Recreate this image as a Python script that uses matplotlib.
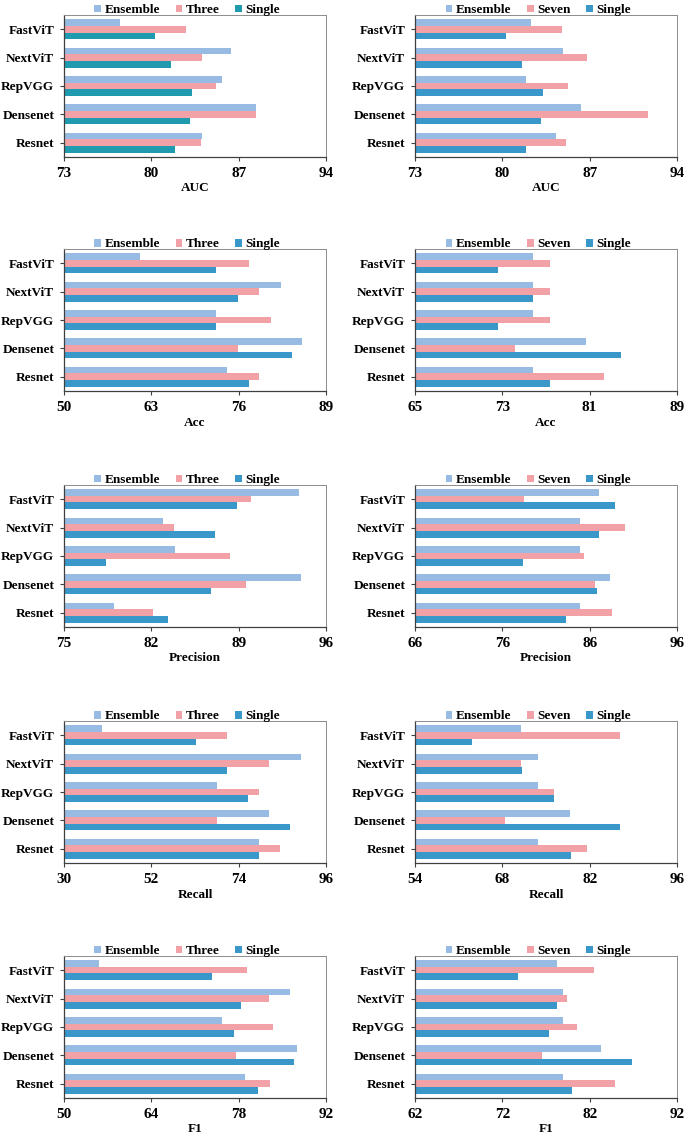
import matplotlib
matplotlib.use("Agg")
import matplotlib.pyplot as plt
import numpy as np

plt.rcParams["font.family"] = ["Liberation Serif", "DejaVu Serif"]
plt.rcParams["font.weight"] = "bold"

# models listed top to bottom as in the chart
models = ["FastViT", "NextViT", "RepVGG", "Densenet", "Resnet"]

# AUC
auc_ens_l = [77.5, 86.4, 85.7, 88.4, 84.1]
auc_three = [82.8, 84.1, 85.2, 88.4, 84.0]
auc_single_l = [80.3, 81.6, 83.3, 83.1, 81.9]
auc_ens_r = [82.3, 84.9, 81.9, 86.3, 84.3]
auc_seven = [84.8, 86.8, 85.3, 91.7, 85.1]
auc_single_r = [80.3, 81.6, 83.3, 83.1, 81.9]
auc_ticks_l = [73, 80, 87, 94]
auc_ticks_r = [73, 80, 87, 94]

# Acc
acc_ens_l = [61.3, 82.3, 72.6, 85.5, 74.2]
acc_three = [77.5, 79.1, 80.8, 75.9, 79.1]
acc_single_l = [72.6, 75.9, 72.6, 83.9, 77.5]
acc_ens_r = [75.8, 75.8, 75.8, 80.7, 75.8]
acc_seven = [77.4, 77.4, 77.4, 74.2, 82.3]
acc_single_r = [72.6, 75.8, 72.6, 83.9, 77.4]
acc_ticks_l = [50, 63, 76, 89]
acc_ticks_r = [65, 73, 81, 89]

# Precision
prec_ens_l = [93.8, 82.9, 83.9, 94.0, 79.0]
prec_three = [90.0, 83.8, 88.3, 89.6, 82.1]
prec_single_l = [88.9, 87.1, 78.4, 86.8, 83.3]
prec_ens_r = [87.1, 84.9, 84.9, 88.3, 84.9]
prec_seven = [78.5, 90.0, 85.3, 86.6, 88.6]
prec_single_r = [88.9, 87.1, 78.4, 86.8, 83.3]
prec_ticks_l = [75, 82, 89, 96]
prec_ticks_r = [66, 76, 86, 96]

# Recall
rec_ens_l = [39.5, 89.6, 68.5, 81.6, 79.0]
rec_three = [71.1, 81.6, 79.0, 68.5, 84.3]
rec_single_l = [63.2, 71.1, 76.3, 86.9, 79.0]
rec_ens_r = [71.0, 73.7, 73.7, 78.9, 73.7]
rec_seven = [86.9, 71.0, 76.3, 68.4, 81.6]
rec_single_r = [63.2, 71.1, 76.3, 86.9, 79.0]
rec_ticks_l = [30, 52, 74, 96]
rec_ticks_r = [54, 68, 82, 96]

# F1
f1_ens_l = [55.6, 86.2, 75.4, 87.4, 79.0]
f1_three = [79.4, 82.8, 83.5, 77.6, 83.1]
f1_single_l = [73.8, 78.3, 77.3, 86.9, 81.1]
f1_ens_r = [78.3, 78.9, 78.9, 83.3, 78.9]
f1_seven = [82.5, 79.4, 80.5, 76.5, 84.9]
f1_single_r = [73.8, 78.3, 77.3, 86.8, 80.0]
f1_ticks_l = [50, 64, 78, 92]
f1_ticks_r = [62, 72, 82, 92]

ENS_COLOR = "#98BBE3"
MID_COLOR = "#F2A2A6"
SINGLE_BLUE = "#3A97C9"
SINGLE_TEAL = "#1F9AAE"


def draw_panel(ax, ens, mid, single, mid_name, ticks, xlabel, single_color=SINGLE_BLUE):
    y = np.arange(len(models))[::-1]
    h = 0.235
    ax.barh(y + h, ens, height=h, color=ENS_COLOR, label="Ensemble")
    ax.barh(y, mid, height=h, color=MID_COLOR, label=mid_name)
    ax.barh(y - h, single, height=h, color=single_color, label="Single")

    ax.set_xlim(ticks[0], ticks[-1])
    ax.set_xticks(ticks)
    ax.set_ylim(-0.5, len(models) - 0.5)
    ax.set_yticks(y)
    ax.set_yticklabels(models)
    ax.tick_params(axis="y", labelsize=9.5, length=3, width=0.8, color="#404040", pad=4)
    ax.tick_params(axis="x", labelsize=11, length=3, width=0.8, color="#404040", pad=4)
    ax.set_xlabel(xlabel, fontsize=9.5, fontweight="bold", labelpad=2)

    for side in ("left", "bottom"):
        ax.spines[side].set_color("#404040")
        ax.spines[side].set_linewidth(0.9)
    for side in ("top", "right"):
        ax.spines[side].set_color("#8c8c8c")
        ax.spines[side].set_linewidth(0.7)

    ax.legend(loc="lower center", bbox_to_anchor=(0.47, 0.99), ncol=3, frameon=False,
              fontsize=9.5, handlelength=0.5, handleheight=0.5, handletextpad=0.25,
              columnspacing=1.2, borderaxespad=0, borderpad=0)


fig = plt.figure(figsize=(6.85, 11.36), dpi=100)

rows = [
    (auc_ens_l, auc_three, auc_single_l, auc_ticks_l,
     auc_ens_r, auc_seven, auc_single_r, auc_ticks_r, "AUC"),
    (acc_ens_l, acc_three, acc_single_l, acc_ticks_l,
     acc_ens_r, acc_seven, acc_single_r, acc_ticks_r, "Acc"),
    (prec_ens_l, prec_three, prec_single_l, prec_ticks_l,
     prec_ens_r, prec_seven, prec_single_r, prec_ticks_r, "Precision"),
    (rec_ens_l, rec_three, rec_single_l, rec_ticks_l,
     rec_ens_r, rec_seven, rec_single_r, rec_ticks_r, "Recall"),
    (f1_ens_l, f1_three, f1_single_l, f1_ticks_l,
     f1_ens_r, f1_seven, f1_single_r, f1_ticks_r, "F1"),
]

bottoms = [0.8618, 0.6558, 0.4481, 0.2403, 0.0335]
height = 0.125
width = 0.3825

for i, (el, tl, sl, kl, er, sr_mid, sr, kr, name) in enumerate(rows):
    ax_l = fig.add_axes([0.0934, bottoms[i], width, height])
    ax_r = fig.add_axes([0.6058, bottoms[i], width, height])
    draw_panel(ax_l, el, tl, sl, "Three", kl, name,
               single_color=SINGLE_TEAL if i == 0 else SINGLE_BLUE)
    draw_panel(ax_r, er, sr_mid, sr, "Seven", kr, name)

fig.savefig("out.png", dpi=100, facecolor="white")
